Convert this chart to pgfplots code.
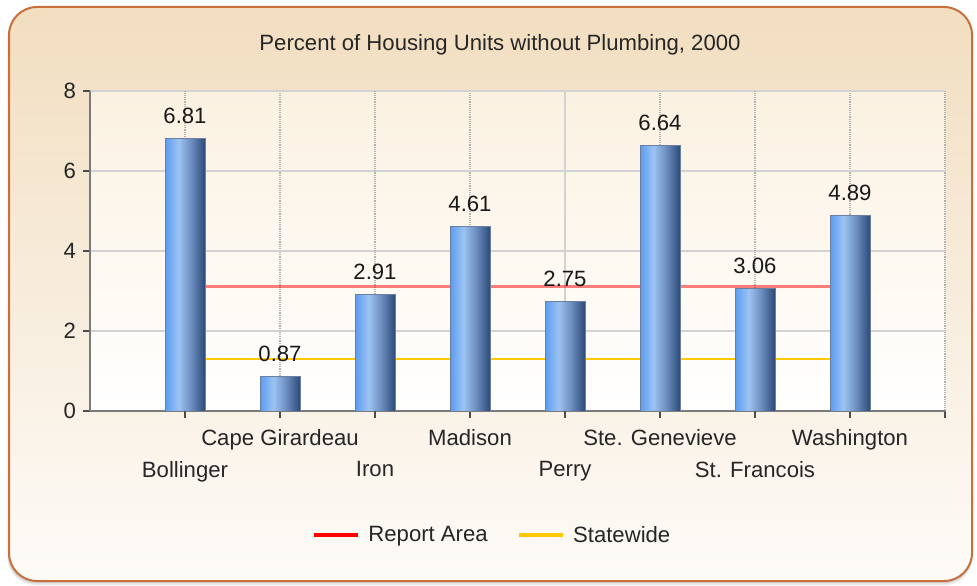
\documentclass[border=0pt]{standalone}
\usepackage{pgfplots}
\pgfplotsset{compat=1.18}
\usepackage{fontspec}
\setmainfont{Liberation Sans}
\definecolor{frameborder}{HTML}{C8703C}
\definecolor{frametop}{HTML}{F2DEC0}
\definecolor{framebot}{HTML}{FDFBF8}
\definecolor{plottop}{HTML}{FBF1E1}
\definecolor{barA}{HTML}{5A9CF0}
\definecolor{barB}{HTML}{9DC3F2}
\definecolor{barC}{HTML}{6A8CBE}
\definecolor{barD}{HTML}{2C4A78}
\definecolor{statewide}{HTML}{FFC800}
\definecolor{axisgray}{HTML}{7A7A7A}
\definecolor{gridgray}{HTML}{D2D2D2}
\pgfdeclarehorizontalshading{barshade}{100bp}{color(0bp)=(barA); color(25bp)=(barA); color(42bp)=(barB); color(58bp)=(barC); color(75bp)=(barD); color(100bp)=(barD)}
\newcommand{\cf}{\fontsize{16.6}{19}\selectfont}
\pgfplotsset{mybar/.style={ybar, bar width=30pt, bar shift=0pt, shading=barshade, draw=barD!70, line width=0.4pt,
  nodes near coords, nodes near coords style={font=\cf, text=black!90, yshift=7.5pt}, forget plot}}
\begin{document}
\begin{tikzpicture}[x=1pt,y=1pt]
\useasboundingbox (0,0) rectangle (732.75,438.75);
\fill[black, opacity=0.08, rounded corners=21pt] (5.5,0) rectangle (729.5,431);
\fill[black, opacity=0.10, rounded corners=21pt] (6,1.2) rectangle (729,432);
\draw[frameborder, line width=1.5pt, rounded corners=21pt, top color=frametop, bottom color=framebot] (6.75,3) rectangle (729,433.5);
\node[font=\cf, text=black!85] at (375,405) {Percent of Housing Units without Plumbing, 2000};
\begin{axis}[
  at={(67.5pt,130.5pt)}, anchor=south west,
  scale only axis, width=641.25pt, height=240pt,
  xmin=-1, xmax=8, ymin=0, ymax=8,
  axis lines*=left,
  axis line style={axisgray, line width=1.1pt},
  tick align=outside,
  major tick length=5pt,
  tick style={black!70, line width=0.9pt},
  /pgf/number format/assume math mode=true,
  ticklabel style={font=\cf, text=black!85},
  xticklabel style={yshift=-5pt},
  xtick={1,3,5,7,8},
  xticklabels={Cape Girardeau, Madison, Ste. Genevieve, Washington, {}},
  extra x ticks={0,2,4,6},
  extra x tick labels={Bollinger, Iron, Perry, St. Francois},
  extra x tick style={grid=major, xticklabel style={yshift=-24pt}},
  ytick={0,2,4,6,8},
  yticklabel style={xshift=-2pt},
  xmajorgrids, ymajorgrids,
  x grid style={densely dotted, gray!60, line width=0.8pt},
  y grid style={gridgray, line width=1.1pt},
  axis background/.style={shade, top color=plottop, bottom color=white},
  legend columns=2,
  legend style={draw=none, fill=none, at={(0.471,-0.3875)}, anchor=center, font=\cf, text=black!85,
    /tikz/every even column/.append style={column sep=20pt}},
  legend image code/.code={\draw[#1] (0pt,0pt) -- (33pt,0pt); \path (37pt,0pt);},
]
\draw[gridgray, line width=0.9pt] (axis cs:4,0) -- (axis cs:4,8);
\addplot[statewide, line width=1.5pt, forget plot] coordinates {(0,1.29) (7,1.29)};
\addplot[red, opacity=0.5, line width=2.4pt, forget plot] coordinates {(0,3.11) (7,3.11)};
\addplot[mybar] coordinates {(0,6.81)};
\addplot[mybar] coordinates {(1,0.87)};
\addplot[mybar] coordinates {(2,2.91)};
\addplot[mybar] coordinates {(3,4.61)};
\addplot[mybar] coordinates {(4,2.75)};
\addplot[mybar] coordinates {(5,6.64)};
\addplot[mybar] coordinates {(6,3.06)};
\addplot[mybar] coordinates {(7,4.89)};
\addlegendimage{red, line width=3pt}
\addlegendentry{Report Area}
\addlegendimage{statewide, line width=3pt}
\addlegendentry{Statewide}
\end{axis}
\end{tikzpicture}
\end{document}
